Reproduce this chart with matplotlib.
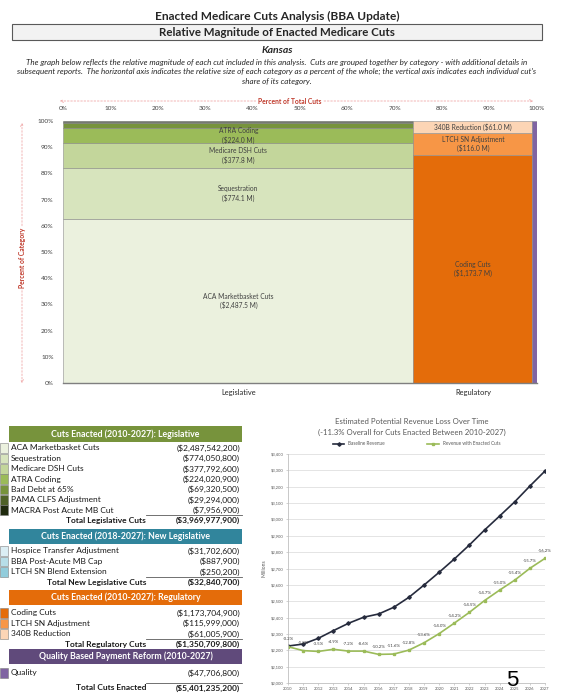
import matplotlib
matplotlib.use("Agg")
import matplotlib.pyplot as plt
from matplotlib.patches import Rectangle, FancyArrowPatch
from matplotlib.lines import Line2D

plt.rcParams['font.family'] = ['Lato', 'DejaVu Sans']

# ---------------- data ----------------
leg_names = ["ACA Marketbasket Cuts", "Sequestration", "Medicare DSH Cuts", "ATRA Coding",
             "Bad Debt at 65%", "PAMA CLFS Adjustment", "MACRA Post Acute MB Cut"]
leg_values = [2487542200, 774050800, 377792600, 224020900, 69320500, 29294000, 7956900]
leg_total = 3969977900

newleg_names = ["Hospice Transfer Adjustment", "BBA Post-Acute MB Cap", "LTCH SN Blend Extension"]
newleg_values = [31702600, 887900, 250200]
newleg_total = 32840700

reg_names = ["Coding Cuts", "LTCH SN Adjustment", "340B Reduction"]
reg_values = [1173704900, 115999000, 61005900]
reg_total = 1350709800

qual_names = ["Quality"]
qual_values = [47706800]
total_cuts = 5401235200

years = list(range(2010, 2028))
baseline = [2226, 2238, 2273, 2320, 2365, 2402, 2422, 2463, 2524, 2599,
            2677, 2758, 2844, 2935, 3021, 3108, 3204, 3296]
with_cuts = [2222, 2198, 2193, 2206, 2195, 2195, 2175, 2177, 2201, 2246,
             2302, 2366, 2432, 2504, 2568, 2629, 2701, 2762]
pct_change = [-0.2, -1.8, -3.5, -4.9, -7.2, -8.6, -10.2, -11.6, -12.8, -13.6,
              -14.0, -14.2, -14.5, -14.7, -15.0, -15.4, -15.7, -16.2]
rev_yticks = list(range(2000, 3401, 100))

mekko_categories = ["Legislative", "Regulatory", "Quality"]
pct_ticks = list(range(0, 101, 10))

# ---------------- colours ----------------
leg_colors = ["#EBF1DE", "#D7E4BD", "#C3D69B", "#9BBB59", "#77933C", "#4F6228", "#1F2A0E"]
newleg_colors = ["#DBEEF4", "#B7DEE8", "#92CDDC"]
reg_colors = ["#E46C0A", "#F79646", "#FCD5B5"]
qual_colors = ["#8064A2"]
RED = "#C0392B"
PINK = "#F0A8A8"
TXT = "#404040"

W, H = 568, 694
fig = plt.figure(figsize=(W / 100, H / 100), dpi=100)


def fx(x):
    return x / W


def fy(y):
    return 1 - y / H


def ftext(x, y, s, **kw):
    kw.setdefault("va", "center")
    return fig.text(fx(x), fy(y), s, **kw)


# ---------------- header ----------------
ftext(277, 16, "Enacted Medicare Cuts Analysis (BBA Update)", ha="center",
      fontsize=8.6, fontweight="bold", color="#262626")
fig.add_artist(Rectangle((fx(12), fy(40)), fx(542) - fx(12), fy(24) - fy(40),
                         transform=fig.transFigure, facecolor="#F2F2F2",
                         edgecolor="#595959", lw=0.8))
ftext(277, 32.5, "Relative Magnitude of Enacted Medicare Cuts", ha="center",
      fontsize=8.3, fontweight="bold", color="#262626")
ftext(277, 50.5, "Kansas", ha="center", fontsize=7.5, fontweight="bold",
      style="italic", color="#262626")
desc = ["The graph below reflects the relative magnitude of each cut included in this analysis.  Cuts are grouped together by category - with additional details in",
        "subsequent reports.  The horizontal axis indicates the relative size of each category as a percent of the whole; the vertical axis indicates each individual cut's",
        "share of its category."]
for i, line in enumerate(desc):
    ftext(277, 62 + i * 9.6, line, ha="center", fontsize=5.8, style="italic", color="#262626")

# ---------------- marimekko ----------------
axL, axR, axT, axB = 63.3, 536.7, 121, 383
ax = fig.add_axes([fx(axL), fy(axB), fx(axR) - fx(axL), fy(axT) - fy(axB)])
cat_totals = [leg_total, reg_total, sum(qual_values)]
cat_parts = [leg_values, reg_values, qual_values]
cat_cols = [leg_colors, reg_colors, qual_colors]
cat_short = [leg_names, reg_names, qual_names]
grand = sum(cat_totals)
left = 0.0
for ci, (tot, parts, cols, names) in enumerate(zip(cat_totals, cat_parts, cat_cols, cat_short)):
    w = tot / grand * 100
    bottom = 0.0
    for v, c, n in zip(parts, cols, names):
        h = v / tot * 100
        ax.bar(left, h, width=w, bottom=bottom, align="edge", color=c,
               edgecolor="#8C8C8C", linewidth=0.4)
        if ci < 2 and h > 4:
            amt = f"(${v / 1e6:,.1f} M)"
            lab = f"{n}\n{amt}" if h > 5 else f"{n} {amt}"
            ax.text(left + w / 2, bottom + h / 2, lab, ha="center", va="center",
                    fontsize=4.8, color=TXT, linespacing=1.3)
        bottom += h
    if ci < 2:
        ax.text(left + w / 2, -0.035, mekko_categories[ci], ha="center", va="center",
                transform=ax.get_xaxis_transform(), fontsize=5.4, color="#262626")
    left += w

ax.set_xlim(0, 100)
ax.set_ylim(0, 100)
ax.xaxis.tick_top()
ax.set_xticks(pct_ticks)
ax.set_xticklabels([f"{t}%" for t in pct_ticks])
ax.set_yticks(pct_ticks)
ax.set_yticklabels([f"{t}%" for t in pct_ticks])
ax.tick_params(axis="both", length=0, labelsize=4.6, labelcolor="#404040")
ax.tick_params(axis="x", pad=7)
ax.tick_params(axis="y", pad=7)
for s in ["top", "right", "left"]:
    ax.spines[s].set_visible(False)
ax.spines["bottom"].set_color("#7F7F7F")
ax.spines["bottom"].set_linewidth(1.0)

# axis titles with dashed arrows
fig.add_artist(FancyArrowPatch((fx(57), fy(101)), (fx(536), fy(101)),
                               transform=fig.transFigure, arrowstyle="<->",
                               mutation_scale=5, color=PINK, lw=0.6,
                               linestyle=(0, (2, 2))))
ftext(290, 101, "Percent of Total Cuts", ha="center", fontsize=4.9, fontweight="bold",
      color=RED, bbox=dict(facecolor="white", edgecolor="none", pad=0.6))
fig.add_artist(FancyArrowPatch((fx(22), fy(386)), (fx(22), fy(120)),
                               transform=fig.transFigure, arrowstyle="<->",
                               mutation_scale=5, color=PINK, lw=0.6,
                               linestyle=(0, (2, 2))))
ftext(22, 258, "Percent of Category", ha="center", fontsize=4.9, fontweight="bold",
      color=RED, rotation=90, bbox=dict(facecolor="white", edgecolor="none", pad=0.6))

# ---------------- table ----------------
TX0, TX1 = 9, 242


def header(yc, text, color):
    fig.add_artist(Rectangle((fx(TX0), fy(yc + 7.5)), fx(TX1) - fx(TX0), fy(yc - 7.5) - fy(yc + 7.5),
                             transform=fig.transFigure, facecolor=color, edgecolor="none"))
    ftext((TX0 + TX1) / 2, yc, text, ha="center", fontsize=6.3, fontweight="bold", color="white")


def row(yc, name, value, color):
    fig.add_artist(Rectangle((fx(0), fy(yc + 4.8)), fx(8), fy(yc - 4.8) - fy(yc + 4.8),
                             transform=fig.transFigure, facecolor=color,
                             edgecolor="#7F7F7F", lw=0.4))
    ftext(11, yc, name, ha="left", fontsize=6.0, color="#1A1A1A")
    ftext(240, yc, f"(${value:,.0f})", ha="right", fontsize=6.0, color="#1A1A1A")


def total(yc, label, value):
    fig.add_artist(Line2D([fx(146), fx(242)], [fy(yc - 5.3), fy(yc - 5.3)],
                          transform=fig.transFigure, color="#595959", lw=0.6))
    ftext(146, yc, label, ha="right", fontsize=6.0, fontweight="bold", color="#1A1A1A")
    ftext(240, yc, f"(${value:,.0f})", ha="right", fontsize=6.0, fontweight="bold", color="#1A1A1A")


rh = 10.35
header(434, "Cuts Enacted (2010-2027): Legislative", "#77933C")
for i, (n, v, c) in enumerate(zip(leg_names, leg_values, leg_colors)):
    row(448 + i * rh, n, v, c)
total(448 + 7 * rh, "Total Legislative Cuts", leg_total)

header(536, "Cuts Enacted (2018-2027): New Legislative", "#31859C")
for i, (n, v, c) in enumerate(zip(newleg_names, newleg_values, newleg_colors)):
    row(551 + i * rh, n, v, c)
total(551 + 3 * rh, "Total New Legislative Cuts", newleg_total)

header(597, "Cuts Enacted (2010-2027): Regulatory", "#E46C0A")
for i, (n, v, c) in enumerate(zip(reg_names, reg_values, reg_colors)):
    row(613 + i * rh, n, v, c)
total(613 + 3 * rh, "Total Regulatory Cuts", reg_total)

header(656, "Quality Based Payment Reform (2010-2027)", "#604A7B")
for n, v, c in zip(qual_names, qual_values, qual_colors):
    row(673, n, v, c)
total(688, "Total Cuts Enacted", total_cuts)

# ---------------- line chart ----------------
lL, lR, lT, lB = 288, 545, 454, 683
ax2 = fig.add_axes([fx(lL), fy(lB), fx(lR) - fx(lL), fy(lT) - fy(lB)])
ax2.plot(years, baseline, color="#262B3D", lw=1.2, marker="D", markersize=1.8,
         label="Baseline Revenue")
ax2.plot(years, with_cuts, color="#9BBB59", lw=1.2, marker="s", markersize=1.5,
         label="Revenue with Enacted Cuts")
for yr, v, p in zip(years, with_cuts, pct_change):
    ax2.annotate(f"{p:.1f}%", (yr, v), xytext=(0, 4), textcoords="offset points",
                 ha="center", va="bottom", fontsize=3.2, color="#404040")
ax2.set_xlim(years[0], years[-1])
ax2.set_ylim(rev_yticks[0], rev_yticks[-1])
ax2.set_yticks(rev_yticks)
ax2.set_yticklabels([f"${t:,}" for t in rev_yticks])
ax2.set_xticks(years)
ax2.set_xticklabels([str(y) for y in years])
ax2.tick_params(axis="both", labelsize=3.0, labelcolor="#595959", length=1.5,
                color="#BFBFBF", width=0.5, pad=1.5)
ax2.grid(axis="y", color="#D9D9D9", lw=0.5)
ax2.set_axisbelow(True)
for s in ["top", "right"]:
    ax2.spines[s].set_visible(False)
for s in ["left", "bottom"]:
    ax2.spines[s].set_color("#BFBFBF")
    ax2.spines[s].set_linewidth(0.6)
ax2.set_ylabel("Millions", fontsize=3.6, color="#595959", labelpad=3)
ax2.legend(loc="lower center", bbox_to_anchor=(0.5, 1.0), ncol=2, fontsize=3.4,
           frameon=False, handlelength=2.5, columnspacing=9, borderaxespad=1.2,
           labelcolor="#595959")
ftext(412, 421, "Estimated Potential Revenue Loss Over Time", ha="center",
      fontsize=5.6, color="#595959")
ftext(412, 432, "(-11.3% Overall for Cuts Enacted Between 2010-2027)", ha="center",
      fontsize=5.6, color="#595959")

# page number
fig.text(fx(512), fy(681), "5", ha="center", va="center", fontsize=16,
         family=["Liberation Sans", "DejaVu Sans"], color="black")

fig.savefig("out.png", dpi=100)
